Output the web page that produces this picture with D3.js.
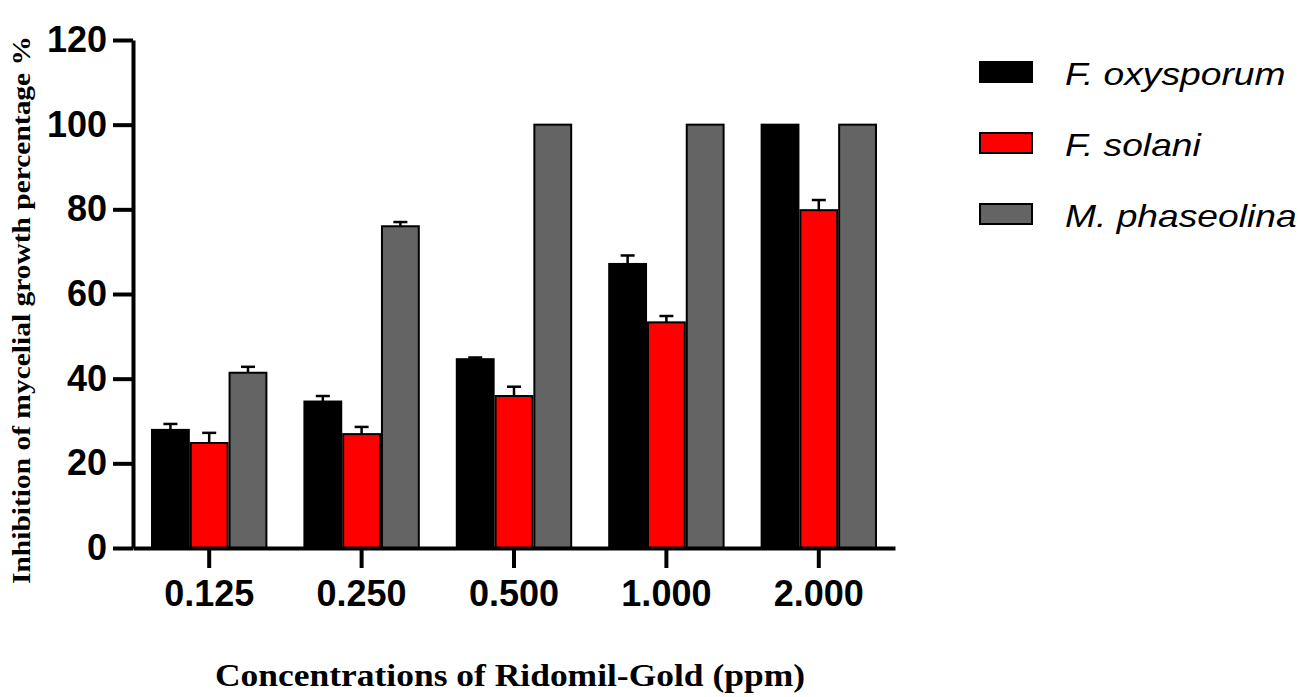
<!DOCTYPE html>
<html>
<head>
	<meta charset="utf-8">
	<title>Ridomil-Gold inhibition</title>
	<script src="https://cdn.jsdelivr.net/npm/d3@7"></script>
	<style type="text/css">
		body { margin: 0; background: #fff; }
		.axis path,
		.axis line {
			fill: none;
			stroke: black;
			stroke-width: 4;
		}
		.axis text {
			font-family: "Liberation Sans", Arial, sans-serif;
			font-weight: bold;
			font-size: 36px;
			fill: black;
		}
		.bar { stroke: black; stroke-width: 2; }
		.err { stroke: black; stroke-width: 2.5; fill: none; }
	</style>
</head>
<body>
	<script type="text/javascript">
		// data
		var concentrations = ["0.125", "0.250", "0.500", "1.000", "2.000"];
		var seriesNames = ["F. oxysporum", "F. solani", "M. phaseolina"];
		var seriesColors = ["#000000", "#ff0000", "#646464"];
		var oxysporum = [27.9, 34.6, 44.6, 67.1, 100];
		var solani = [24.8, 26.9, 35.9, 53.3, 79.8];
		var phaseolina = [41.4, 76.0, 100, 100, 100];
		var oxysporumErr = [1.4, 1.3, 0.4, 2.0, 0];
		var solaniErr = [2.4, 1.7, 2.2, 1.5, 2.4];
		var phaseolinaErr = [1.4, 1.0, 0, 0, 0];
		var yTicks = [0, 20, 40, 60, 80, 100, 120];

		var width = 1300,
			height = 697,
			padLeft = 133,
			padBottom = 548,
			padTop = 40;

		var values = [oxysporum, solani, phaseolina],
			errors = [oxysporumErr, solaniErr, phaseolinaErr];

		var svg = d3.select("body")
					.append("svg")
					.attr("width", width)
					.attr("height", height);

		var xScale = d3.scaleBand()
			.domain(concentrations)
			.range([padLeft, padLeft + 5 * 152.4]);
		var xInner = d3.scaleBand()
			.domain(seriesNames)
			.range([19, xScale.bandwidth() - 19])
			.paddingInner(0.05);
		var yScale = d3.scaleLinear()
			.domain([0, 120])
			.range([padBottom, padTop]);

		// bars
		var groups = svg.append("g")
			.selectAll("g")
			.data(concentrations)
			.enter()
			.append("g")
			.attr("transform", function (d) { return "translate(" + xScale(d) + ",0)"; });

		groups.each(function (c, ci) {
			var g = d3.select(this);
			seriesNames.forEach(function (s, si) {
				var v = values[si][ci], e = errors[si][ci];
				var bx = xInner(s), bw = xInner.bandwidth();
				if (e > 0) {
					var cx = bx + bw / 2;
					g.append("line").attr("class", "err")
						.attr("x1", cx).attr("x2", cx)
						.attr("y1", yScale(v)).attr("y2", yScale(v + e));
					g.append("line").attr("class", "err")
						.attr("x1", cx - 7).attr("x2", cx + 7)
						.attr("y1", yScale(v + e)).attr("y2", yScale(v + e));
				}
				g.append("rect")
					.attr("class", "bar")
					.attr("x", bx)
					.attr("y", yScale(v))
					.attr("width", bw)
					.attr("height", yScale(0) - yScale(v))
					.style("fill", seriesColors[si]);
			});
		});

		// axes
		var yAxis = d3.axisLeft(yScale)
			.tickValues(yTicks)
			.tickSize(20)
			.tickSizeOuter(0)
			.tickPadding(6);
		var xAxis = d3.axisBottom(xScale)
			.tickSize(20)
			.tickSizeOuter(0)
			.tickPadding(12);

		svg.append("g")
			.attr("class", "axis")
			.attr("transform", "translate(" + padLeft + ",0)")
			.call(yAxis);
		svg.append("g")
			.attr("class", "axis")
			.attr("transform", "translate(0," + padBottom + ")")
			.call(xAxis);

		// axis titles
		svg.append("text")
			.attr("transform", "translate(30," + 310 + ") rotate(-90)")
			.attr("text-anchor", "middle")
			.attr("textLength", 548)
			.attr("lengthAdjust", "spacingAndGlyphs")
			.style("font-family", "'Liberation Serif', 'Times New Roman', serif")
			.style("font-weight", "bold")
			.style("font-size", "26px")
			.text("Inhibition of mycelial growth percentage %");

		svg.append("text")
			.attr("x", 510)
			.attr("y", 686)
			.attr("text-anchor", "middle")
			.attr("textLength", 590)
			.attr("lengthAdjust", "spacingAndGlyphs")
			.style("font-family", "'Liberation Serif', 'Times New Roman', serif")
			.style("font-weight", "bold")
			.style("font-size", "32px")
			.text("Concentrations of Ridomil-Gold (ppm)");

		// legend
		var legend = svg.append("g").attr("class", "legend");
		legend.selectAll("g")
			.data(seriesNames)
			.enter()
			.append("g")
			.each(function (d, i) {
				var g = d3.select(this);
				var cy = 72 + i * 71;
				g.append("rect")
					.attr("x", 980)
					.attr("y", cy - 10)
					.attr("width", 52)
					.attr("height", 20)
					.style("fill", seriesColors[i])
					.style("stroke", "black")
					.style("stroke-width", 2);
				g.append("text")
					.attr("transform", "translate(1065," + (cy + 13) + ") scale(1.2,1)")
					.style("font-family", "'Liberation Sans', Arial, sans-serif")
					.style("font-style", "italic")
					.style("font-size", "31px")
					.text(d);
			});
	</script>
</body>
</html>
